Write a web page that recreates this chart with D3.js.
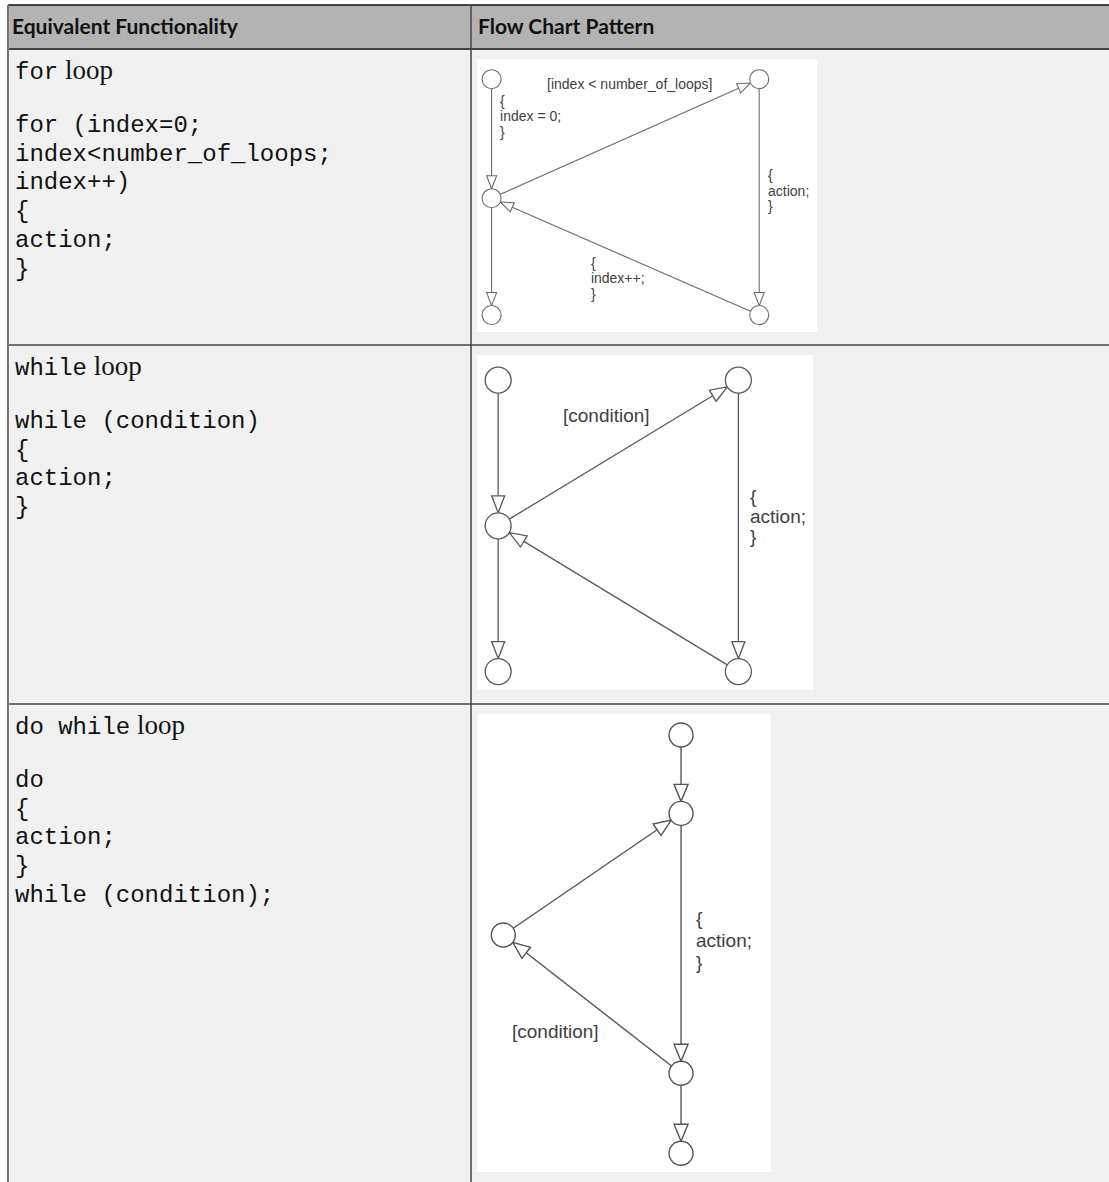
<!DOCTYPE html>
<html>
<head>
<meta charset="utf-8">
<script src="https://cdn.jsdelivr.net/npm/d3@7"></script>
<style>
  html, body { margin: 0; padding: 0; background: #ffffff; }
  svg { display: block; }
</style>
</head>
<body>
<script>
// ---------------- DATA ----------------
const headerLabels = ["Equivalent Functionality", "Flow Chart Pattern"];
const titleCode = ["for", "while", "do while"];
const titleWord = ["loop", "loop", "loop"];
const codeLines = [
  ["for (index=0;", "index<number_of_loops;", "index++)", "{", "action;", "}"],
  ["while (condition)", "{", "action;", "}"],
  ["do", "{", "action;", "}", "while (condition);"]
];

// Diagram nodes: positions as fractions of the diagram image box
const forNodes = [
  {id: "start", fx: 0.043, fy: 0.074},
  {id: "top",   fx: 0.830, fy: 0.074},
  {id: "mid",   fx: 0.043, fy: 0.510},
  {id: "end",   fx: 0.043, fy: 0.938},
  {id: "bot",   fx: 0.830, fy: 0.938}
];
const forEdges = [["start", "mid"], ["mid", "top"], ["top", "bot"], ["bot", "mid"], ["mid", "end"]];
const forLabels = [
  {lines: ["[index < number_of_loops]"], fx: 0.206, fy: 0.110},
  {lines: ["{", "index = 0;", "}"], fx: 0.068, fy: 0.172},
  {lines: ["{", "action;", "}"], fx: 0.856, fy: 0.445},
  {lines: ["{", "index++;", "}"], fx: 0.335, fy: 0.765}
];

const whileNodes = [
  {id: "start", fx: 0.063, fy: 0.075},
  {id: "top",   fx: 0.778, fy: 0.075},
  {id: "mid",   fx: 0.063, fy: 0.510},
  {id: "end",   fx: 0.063, fy: 0.945},
  {id: "bot",   fx: 0.778, fy: 0.945}
];
const whileEdges = [["start", "mid"], ["mid", "top"], ["top", "bot"], ["bot", "mid"], ["mid", "end"]];
const whileLabels = [
  {lines: ["[condition]"], fx: 0.256, fy: 0.199},
  {lines: ["{", "action;", "}"], fx: 0.8125, fy: 0.443}
];

const doNodes = [
  {id: "start", fx: 0.694, fy: 0.046},
  {id: "body",  fx: 0.694, fy: 0.217},
  {id: "left",  fx: 0.0895, fy: 0.4825},
  {id: "cond",  fx: 0.694, fy: 0.7845},
  {id: "end",   fx: 0.694, fy: 0.959}
];
const doEdges = [["start", "body"], ["body", "cond"], ["cond", "left"], ["left", "body"], ["cond", "end"]];
const doLabels = [
  {lines: ["{", "action;", "}"], fx: 0.745, fy: 0.460},
  {lines: ["[condition]"], fx: 0.119, fy: 0.707}
];

// ---------------- LAYOUT ----------------
const W = 1109, H = 1182;
const tableLeft = 8, tableTop = 5, headerBottom = 49, colDiv = 471;
const rowTops = [49, 345, 704];
const rowBottoms = [345, 704, 1190];
const diagramBoxes = [
  {x: 477, y: 59,  w: 340, h: 273},
  {x: 477, y: 355, w: 336, h: 335},
  {x: 477, y: 714, w: 294, h: 458}
];
const diagramStyles = [
  {r: 9.5, L: 13, hw: 5,   font: 14, lineH: 15.5, sw: 1.1, color: "#6a6a6a"},
  {r: 13,  L: 17, hw: 6.5, font: 19, lineH: 20,   sw: 1.3, color: "#5a5a5a"},
  {r: 12,  L: 17, hw: 7,   font: 19, lineH: 22,   sw: 1.4, color: "#555555"}
];
const diagrams = [
  {nodes: forNodes, edges: forEdges, labels: forLabels},
  {nodes: whileNodes, edges: whileEdges, labels: whileLabels},
  {nodes: doNodes, edges: doEdges, labels: doLabels}
];

const monoFont = "'Liberation Mono', 'DejaVu Sans Mono', monospace";
const serifFont = "'Liberation Serif', 'DejaVu Serif', serif";
const headFont = "Lato, 'Open Sans', sans-serif";
const diagFont = "'Liberation Sans', Arial, sans-serif";

// ---------------- DRAW ----------------
const svg = d3.select("body").append("svg")
  .attr("width", W).attr("height", H)
  .attr("viewBox", `0 0 ${W} ${H}`);

// header background
svg.append("rect").attr("x", tableLeft).attr("y", tableTop)
  .attr("width", W - tableLeft).attr("height", headerBottom - tableTop)
  .attr("fill", "#b3b3b3");

// body background
svg.append("rect").attr("x", tableLeft).attr("y", headerBottom)
  .attr("width", W - tableLeft).attr("height", H - headerBottom)
  .attr("fill", "#f1f1f1");

// header text
const headerX = [tableLeft + 4, colDiv + 7];
svg.selectAll("text.head").data(headerLabels).join("text")
  .attr("class", "head")
  .attr("x", (d, i) => headerX[i])
  .attr("y", 34)
  .attr("font-family", headFont)
  .attr("font-weight", "bold")
  .attr("font-size", 21)
  .attr("fill", "#111")
  .text(d => d);

// code column
rowTops.forEach((top, i) => {
  const t = svg.append("text")
    .attr("x", tableLeft + 7)
    .attr("y", top + 30)
    .attr("fill", "#111");
  t.append("tspan").attr("font-family", monoFont).attr("font-size", 24).text(titleCode[i]);
  t.append("tspan").attr("font-family", serifFont).attr("font-size", 27).text(" " + titleWord[i]);

  svg.append("g").selectAll("text").data(codeLines[i]).join("text")
    .attr("x", tableLeft + 7)
    .attr("y", (d, j) => top + 83 + j * 28.7)
    .attr("font-family", monoFont)
    .attr("font-size", 24)
    .attr("fill", "#111")
    .attr("xml:space", "preserve")
    .style("white-space", "pre")
    .text(d => d);
});

// diagrams
diagrams.forEach((dg, i) => {
  const box = diagramBoxes[i];
  const st = diagramStyles[i];
  const xs = d3.scaleLinear().domain([0, 1]).range([box.x, box.x + box.w]);
  const ys = d3.scaleLinear().domain([0, 1]).range([box.y, box.y + box.h]);
  const g = svg.append("g");

  g.append("rect").attr("x", xs(0)).attr("y", ys(0))
    .attr("width", xs(1) - xs(0)).attr("height", ys(1) - ys(0))
    .attr("fill", "#ffffff");

  const byId = new Map(dg.nodes.map(n => [n.id, n]));
  dg.edges.forEach(([s, t]) => {
    const a = byId.get(s), b = byId.get(t);
    const x1 = xs(a.fx), y1 = ys(a.fy), x2 = xs(b.fx), y2 = ys(b.fy);
    const len = Math.hypot(x2 - x1, y2 - y1);
    const ux = (x2 - x1) / len, uy = (y2 - y1) / len;
    const px = -uy, py = ux;
    const sx = x1 + ux * st.r, sy = y1 + uy * st.r;
    const tx = x2 - ux * st.r, ty = y2 - uy * st.r;
    const bx = tx - ux * st.L, by = ty - uy * st.L;
    g.append("line")
      .attr("x1", sx).attr("y1", sy).attr("x2", bx).attr("y2", by)
      .attr("stroke", st.color).attr("stroke-width", st.sw);
    g.append("polygon")
      .attr("points", [[tx, ty], [bx + px * st.hw, by + py * st.hw], [bx - px * st.hw, by - py * st.hw]]
        .map(p => p.join(",")).join(" "))
      .attr("fill", "#ffffff").attr("stroke", st.color)
      .attr("stroke-width", st.sw).attr("stroke-linejoin", "miter");
  });

  g.selectAll("circle").data(dg.nodes).join("circle")
    .attr("cx", d => xs(d.fx)).attr("cy", d => ys(d.fy)).attr("r", st.r)
    .attr("fill", "#ffffff").attr("stroke", st.color).attr("stroke-width", st.sw);

  dg.labels.forEach(lb => {
    g.append("g").selectAll("text").data(lb.lines).join("text")
      .attr("x", xs(lb.fx))
      .attr("y", (d, j) => ys(lb.fy) + j * st.lineH)
      .attr("font-family", diagFont)
      .attr("font-size", st.font)
      .attr("fill", "#404040")
      .text(d => d);
  });
});

// table lines
const lines = svg.append("g");
lines.append("line").attr("x1", tableLeft).attr("x2", W).attr("y1", tableTop).attr("y2", tableTop)
  .attr("stroke", "#111").attr("stroke-width", 1.5);
lines.append("line").attr("x1", tableLeft).attr("x2", W).attr("y1", headerBottom).attr("y2", headerBottom)
  .attr("stroke", "#444").attr("stroke-width", 2);
rowBottoms.slice(0, 2).forEach(yb => {
  lines.append("line").attr("x1", tableLeft).attr("x2", W).attr("y1", yb).attr("y2", yb)
    .attr("stroke", "#444").attr("stroke-width", 1.5);
});
lines.append("line").attr("x1", colDiv).attr("x2", colDiv).attr("y1", tableTop).attr("y2", H)
  .attr("stroke", "#444").attr("stroke-width", 1.5);
lines.append("line").attr("x1", tableLeft).attr("x2", tableLeft).attr("y1", tableTop).attr("y2", H)
  .attr("stroke", "#777").attr("stroke-width", 2);
</script>
</body>
</html>
